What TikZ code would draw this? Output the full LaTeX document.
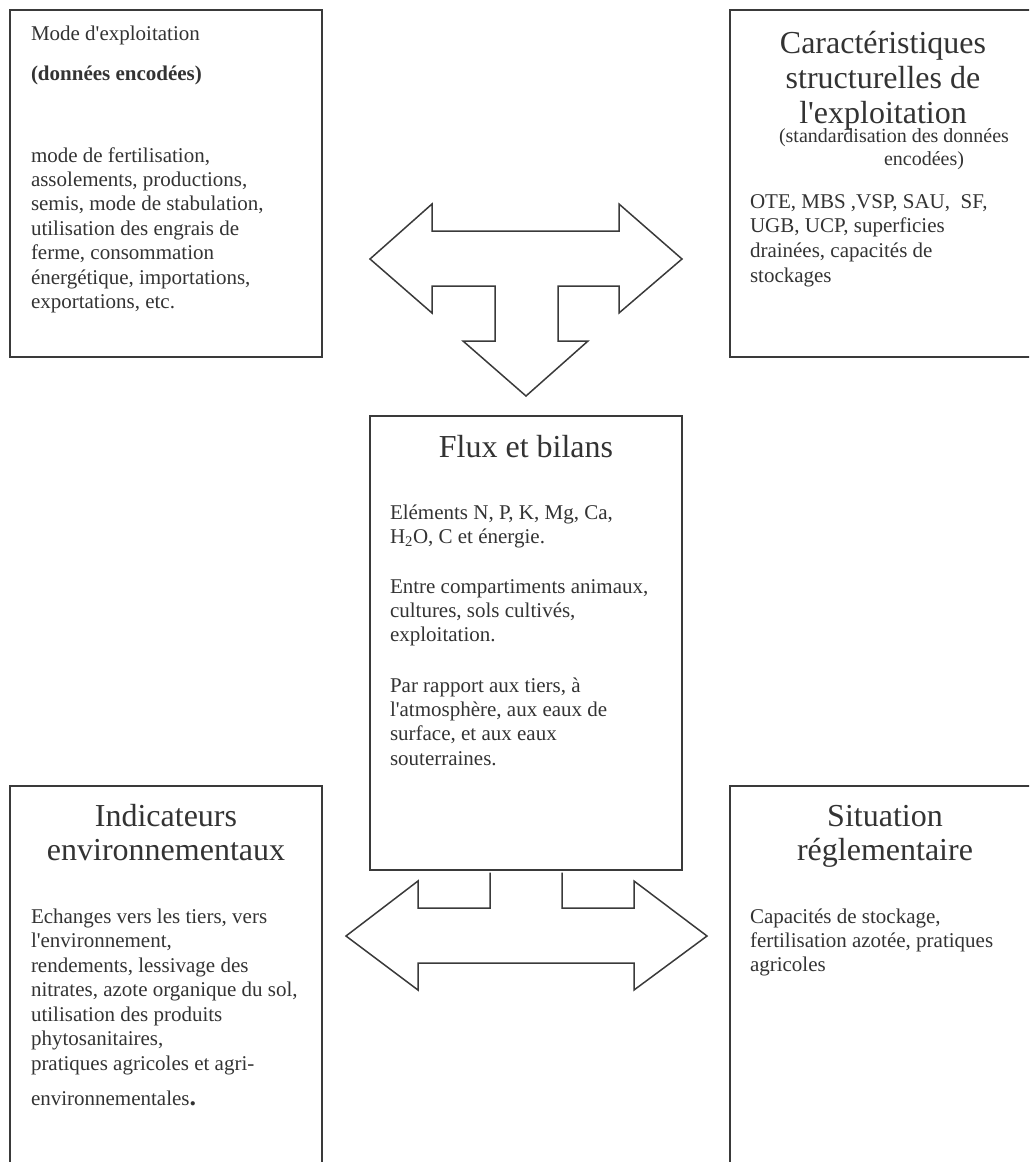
\documentclass[tikz,border=0pt]{standalone}
\usepackage{fontspec}
\setmainfont{Liberation Serif}[Ligatures=TeXOff]
\newcommand\LftLines[1]{\vtop{\halign{##\hfil\cr#1\crcr}}}
\newcommand\CtrLines[1]{\vtop{\halign{\hfil##\hfil\cr#1\crcr}}}
\definecolor{ink}{HTML}{333333}
\definecolor{edge}{HTML}{3A3A3A}
\begin{document}
\begin{tikzpicture}[x=1pt,y=-1pt,
  frame/.style={draw=edge, line width=1.5pt, line join=miter},
  boxnode/.style={frame, rectangle, inner sep=0pt, outer sep=0pt, minimum width=312pt},
  body/.style={text=ink, inner sep=0pt, outer sep=0pt, anchor=base west, font=\fontsize{21}{24.4}\selectfont},
  small/.style={text=ink, inner sep=0pt, outer sep=0pt, anchor=base, font=\fontsize{20}{23}\selectfont},
  head/.style={text=ink, inner sep=0pt, outer sep=0pt, anchor=base, font=\fontsize{32}{34.5}\selectfont}]
\useasboundingbox (0,0) rectangle (1029,1162);
\begin{scope}
\clip (0,0) rectangle (1029,1162);
% boxes
\node[boxnode, minimum height=347pt] (tlbox) at (166,183.5) {};
\node[boxnode, minimum height=347pt] (trbox) at (886,183.5) {};
\node[boxnode, minimum height=454pt] (cbox) at (526,643) {};
\node[boxnode, minimum height=420pt] (blbox) at (166,996) {};
\node[boxnode, minimum height=420pt] (brbox) at (886,996) {};
% top T arrow
\draw[frame] (370,259) -- (432,204) -- (432,231) -- (619,231) -- (619,204) -- (682,259)
  -- (619,313) -- (619,286) -- (558,286) -- (558,341) -- (588,341) -- (526,396)
  -- (463,341) -- (495,341) -- (495,286) -- (432,286) -- (432,313) -- cycle;
% bottom arrow
\draw[frame] (490,872.5) -- (490,908) -- (418,908) -- (418,881) -- (346,936) -- (418,990)
  -- (418,963) -- (634,963) -- (634,990) -- (707,936) -- (634,881) -- (634,908)
  -- (562,908) -- (562,872.5);
\end{scope}
% top-left texts
\node[body] (tl1) at (31,40) {Mode d'exploitation};
\node[body, font=\fontsize{21}{24.4}\selectfont\bfseries] (tl2) at (31,80) {(données encodées)};
\node[body] (tl3) at (31,162) {\LftLines{mode de fertilisation,\cr
  assolements, productions,\cr
  semis, mode de stabulation,\cr
  utilisation des engrais de\cr
  ferme, consommation\cr
  énergétique, importations,\cr
  exportations, etc.}};
% top-right texts
\node[head, font=\fontsize{32}{35}\selectfont] (tr1) at (883,53) {\CtrLines{Caractéristiques\cr
  structurelles de\cr
  l'exploitation}};
\node[small] (tr2) at (894,142) {(standardisation des données};
\node[small] (tr3) at (924,165) {encodées)};
\node[body, font=\fontsize{21}{24.7}\selectfont] (tr4) at (750,208) {\LftLines{OTE, MBS ,VSP, SAU,\ \ SF,\cr
  UGB, UCP, superficies\cr
  drainées, capacités de\cr
  stockages}};
% center texts
\node[head] (c1) at (526,457) {Flux et bilans};
\node[body] (c2) at (390,519) {\LftLines{Eléments N, P, K, Mg, Ca,\cr
  H\textsubscript{2}O, C et énergie.}};
\node[body] (c3) at (390,593) {\LftLines{Entre compartiments animaux,\cr
  cultures, sols cultivés,\cr
  exploitation.}};
\node[body] (c4) at (390,692) {\LftLines{Par rapport aux tiers, à\cr
  l'atmosphère, aux eaux de\cr
  surface, et aux eaux\cr
  souterraines.}};
% bottom-left texts
\node[head] (bl1) at (166,826) {\CtrLines{Indicateurs\cr environnementaux}};
\node[body, font=\fontsize{21}{24.5}\selectfont] (bl2) at (31,923) {\LftLines{Echanges vers les tiers, vers\cr
  l'environnement,\cr
  rendements, lessivage des\cr
  nitrates, azote organique du sol,\cr
  utilisation des produits\cr
  phytosanitaires,\cr
  pratiques agricoles et agri-}};
\node[body] (bl3) at (31,1105) {environnementales{\fontsize{26}{30}\selectfont\bfseries.}};
% bottom-right texts
\node[head] (br1) at (885,826) {\CtrLines{Situation\cr réglementaire}};
\node[body] (br2) at (750,923) {\LftLines{Capacités de stockage,\cr
  fertilisation azotée, pratiques\cr
  agricoles}};
\end{tikzpicture}
\end{document}
